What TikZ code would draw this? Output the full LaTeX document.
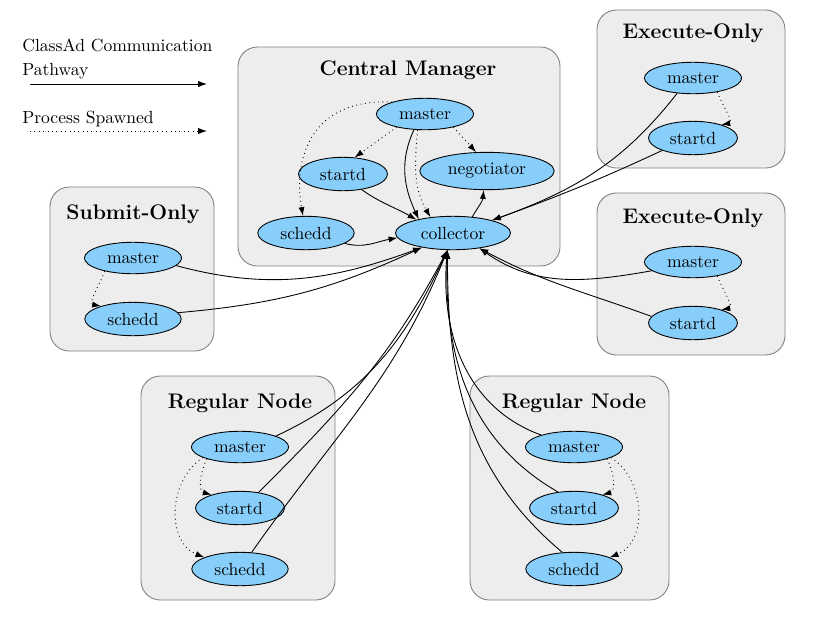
\documentclass[tikz,border=0pt]{standalone}
\usepackage{tikz}
\usetikzlibrary{shapes}
\usetikzlibrary{positioning}
\usetikzlibrary{arrows.meta}
\definecolor{daemonblue}{HTML}{87CEFA}
\definecolor{boxgray}{HTML}{EDEDED}
\tikzset{
    daemon/.style = {ellipse, draw=black, line width=0.5pt, fill=daemonblue, inner xsep=4.8pt, inner ysep=3.2pt, align=center},
    machine/.style = {draw=gray, fill=boxgray, line width=0.5pt, rounded corners=11pt},
    boxtitle/.style = {font=\large\bfseries},
    legendtext/.style = {inner sep=0pt, anchor=west, align=left},
    edgen/.style = {-{Latex[length=5pt,width=3.5pt]}, line width=0.5pt, black}, % classad
    edged/.style = {-{Latex[length=5pt,width=3.5pt]}, line width=0.5pt, black, dotted}, % spawned
}

\begin{document}
\begin{tikzpicture}[x=0.02cm, y=0.02cm]
\useasboundingbox (0,0) rectangle (819,-620);
% legend
\node[legendtext] at (22,-59) (lgc) {ClassAd Communication\\[1.5pt]Pathway};
\node[legendtext] at (22,-119) (lgp) {Process Spawned};
\coordinate (lgca) at (30,-84);
\coordinate (lgcb) at (207,-84);
\coordinate (lgpa) at (30,-131);
\coordinate (lgpb) at (207,-131);
\draw[edgen] (lgca) -- (lgcb);
\draw[edged] (lgpa) -- (lgpb);
% boxes
\draw[machine] (238,-47) rectangle (560,-266);
\draw[machine] (597,-10) rectangle (785,-168);
\draw[machine] (597,-193) rectangle (785,-355);
\draw[machine] (50,-187) rectangle (214,-351);
\draw[machine] (141,-376) rectangle (335,-600);
\draw[machine] (470,-376) rectangle (669,-600);
%
\node[boxtitle] at (408,-70) (cmt) {Central Manager};
\node[daemon] at (425,-114) (cmmaster) {master};
\node[daemon] at (343,-174) (cmstartd) {startd};
\node[daemon] at (487,-171) (cmneg) {negotiator};
\node[daemon] at (306,-233) (cmschedd) {schedd};
\node[daemon] at (453,-233) (cmcoll) {collector};
%
\node[boxtitle] at (693,-33) (eat) {Execute-Only};
\node[daemon] at (693,-78) (eamaster) {master};
\node[daemon] at (693,-138) (eastartd) {startd};
%
\node[boxtitle] at (693,-218) (ebt) {Execute-Only};
\node[daemon] at (693,-262) (ebmaster) {master};
\node[daemon] at (693,-323) (ebstartd) {startd};
%
\node[boxtitle] at (133,-214) (sot) {Submit-Only};
\node[daemon] at (133,-258) (somaster) {master};
\node[daemon] at (133,-319) (soschedd) {schedd};
%
\node[boxtitle] at (240,-403) (rlt) {Regular Node};
\node[daemon] at (240,-447) (rlmaster) {master};
\node[daemon] at (240,-508) (rlstartd) {startd};
\node[daemon] at (240,-569) (rlschedd) {schedd};
%
\node[boxtitle] at (574,-403) (rrt) {Regular Node};
\node[daemon] at (574,-447) (rrmaster) {master};
\node[daemon] at (574,-508) (rrstartd) {startd};
\node[daemon] at (574,-569) (rrschedd) {schedd};
%
\draw[edged] (cmmaster.205) -- (cmstartd.55);
\draw[edged] (cmmaster.335) -- (cmneg.120);
\draw[edged] (cmmaster.160) .. controls (310,-98) and (293,-160) .. (cmschedd.100);
\draw[edged] (cmmaster.245) to[out=265,in=120] (cmcoll.145);
\draw[edgen] (cmmaster.235) to[out=245,in=115] (cmcoll.158);
\draw[edgen] (cmstartd.320) to[out=-35,in=150] (cmcoll.160);
\draw[edgen] (cmschedd.345) to[out=-15,in=190] (cmcoll.185);
\draw[edgen] (cmcoll.40) to[out=60,in=-95] (cmneg.260);
%
\draw[edged] (eamaster.-30) to[out=-70,in=10] (eastartd.25);
\draw[edgen] (eamaster.224) to[out=232,in=20] (cmcoll.18);
\draw[edgen] (eastartd.202) to[out=205,in=20] (cmcoll.18);
%
\draw[edged] (ebmaster.-30) to[out=-70,in=10] (ebstartd.25);
\draw[edgen] (ebmaster.192) to[out=190,in=-35] (cmcoll.-30);
\draw[edgen] (ebstartd.171) to[out=160,in=-28] (cmcoll.-30);
%
\draw[edged] (somaster.205) to[out=250,in=170] (soschedd.158);
\draw[edgen] (somaster.350) to[out=-15,in=200] (cmcoll.205);
\draw[edgen] (soschedd.8) to[out=5,in=205] (cmcoll.205);
%
\draw[edged] (rlmaster.200) to[out=240,in=165] (rlstartd.155);
\draw[edged] (rlmaster.196) .. controls (168,-480) and (166,-542) .. (rlschedd.162);
\draw[edgen] (rlmaster.17) to[out=25,in=-115] (cmcoll.252);
\draw[edgen] (rlstartd.40) to[out=45,in=-118] (cmcoll.252);
\draw[edgen] (rlschedd.55) to[out=55,in=-112] (cmcoll.252);
%
\draw[edged] (rrmaster.-20) to[out=-60,in=15] (rrstartd.25);
\draw[edged] (rrmaster.-16) .. controls (646,-480) and (648,-542) .. (rrschedd.18);
\draw[edgen] (rrmaster.160) to[out=160,in=-95] (cmcoll.252);
\draw[edgen] (rrstartd.135) to[out=150,in=-92] (cmcoll.252);
\draw[edgen] (rrschedd.125) to[out=140,in=-90] (cmcoll.252);
\end{tikzpicture}
\end{document}
